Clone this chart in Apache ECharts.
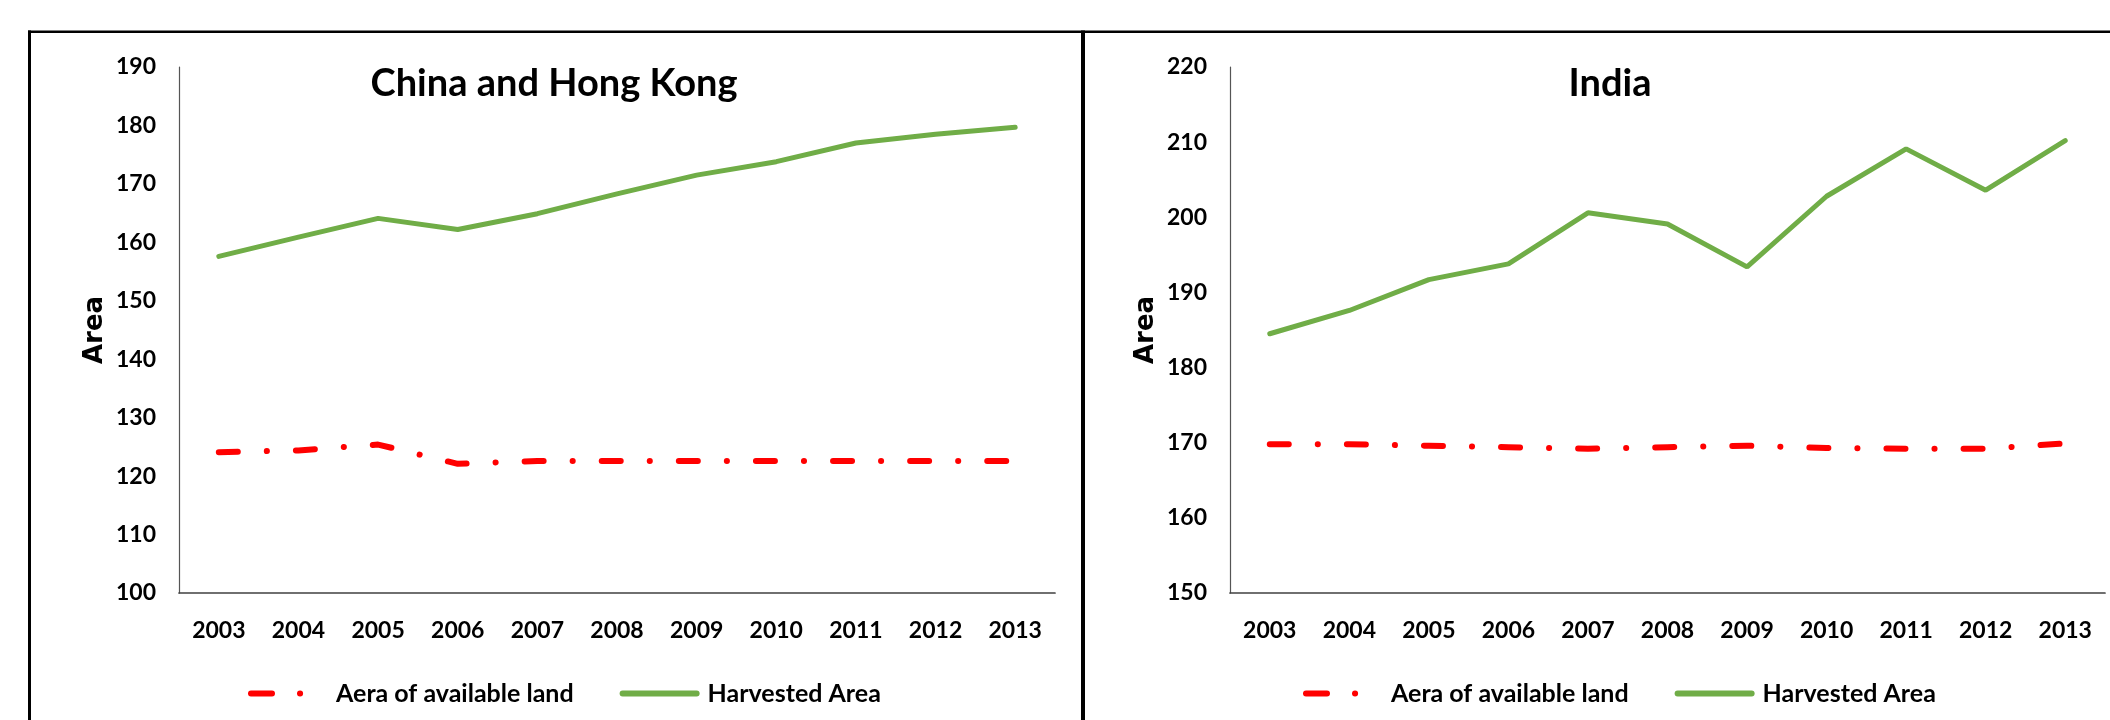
<!DOCTYPE html>
<html>
<head>
<meta charset="utf-8">
<script src="https://cdn.jsdelivr.net/npm/echarts@6/dist/echarts.min.js"></script>
<style>
  html, body { margin: 0; padding: 0; background: #fff; }
  #chart { width: 2110px; height: 720px; }
</style>
</head>
<body>
<div id="chart"></div>
<script>
const years = ['2003','2004','2005','2006','2007','2008','2009','2010','2011','2012','2013'];
const chinaTitle = 'China and Hong Kong';
const indiaTitle = 'India';
const seriesNames = ['Aera of available land', 'Harvested Area'];
const chinaAvailable = [124.1, 124.4, 125.4, 122.1, 122.6, 122.6, 122.6, 122.6, 122.6, 122.6, 122.6];
const chinaHarvested = [157.6, 160.9, 164.1, 162.2, 164.9, 168.3, 171.5, 173.8, 177.0, 178.5, 179.7];
const indiaAvailable = [169.8, 169.8, 169.6, 169.4, 169.2, 169.4, 169.6, 169.3, 169.2, 169.2, 169.9];
const indiaHarvested = [184.5, 187.6, 191.7, 193.8, 200.6, 199.1, 193.4, 202.8, 209.1, 203.6, 210.2];
const chinaAxis = { min: 100, max: 190, interval: 10 };
const indiaAxis = { min: 150, max: 220, interval: 10 };
const axisName = 'Area';

const RED = '#FF0000';
const GREEN = '#70AD47';
const FONT = 'Lato';
const redLine = { color: RED, width: 6, type: [19, 29, 0.1, 29], cap: 'round' };
const greenLine = { color: GREEN, width: 5, cap: 'round' };

function xAxisFor(gridIndex) {
  return {
    type: 'category', gridIndex, data: years, boundaryGap: true,
    axisLine: { show: true, lineStyle: { color: '#404040', width: 1.7 } },
    axisTick: { show: false },
    axisLabel: { color: '#000', fontFamily: FONT, fontWeight: 'bold', fontSize: 23, margin: 26 },
    splitLine: { show: false }
  };
}
function yAxisFor(gridIndex, cfg) {
  return {
    type: 'value', gridIndex, min: cfg.min, max: cfg.max, interval: cfg.interval,
    name: axisName, nameLocation: 'middle', nameGap: 71, nameRotate: 90,
    nameTextStyle: { color: '#000', fontFamily: 'DejaVu Sans', fontWeight: 'bold', fontSize: 26 },
    axisLine: { show: true, lineStyle: { color: '#555', width: 1.2 } },
    axisTick: { show: false },
    axisLabel: { color: '#000', fontFamily: FONT, fontWeight: 'bold', fontSize: 23, margin: 23 },
    splitLine: { show: false }
  };
}
function legendFor(left) {
  return {
    left, top: 681, padding: 0, itemWidth: 74, itemHeight: 14, itemGap: 46,
    data: [
      { name: seriesNames[0], itemStyle: { opacity: 0 }, lineStyle: { width: 6, color: RED, type: [21, 28, 0.1, 28], cap: 'round' } },
      { name: seriesNames[1], itemStyle: { opacity: 0 }, lineStyle: { width: 6, color: GREEN, cap: 'round' } }
    ],
    textStyle: { color: '#000', fontFamily: FONT, fontWeight: 'bold', fontSize: 25, lineHeight: 25, padding: [0, 0, 0, 6] },
    selectedMode: false
  };
}

const chart = echarts.init(document.getElementById('chart'), null, { renderer: 'canvas' });
chart.setOption({
  backgroundColor: '#fff',
  animation: false,
  title: [
    { text: chinaTitle, left: 554, top: 84, padding: 0, textAlign: 'center', textVerticalAlign: 'middle',
      textStyle: { color: '#000', fontFamily: FONT, fontWeight: 'bold', fontSize: 38 } },
    { text: indiaTitle, left: 1610, top: 84, padding: 0, textAlign: 'center', textVerticalAlign: 'middle',
      textStyle: { color: '#000', fontFamily: FONT, fontWeight: 'bold', fontSize: 38 } }
  ],
  grid: [
    { left: 179, width: 876, top: 67, height: 526 },
    { left: 1230, width: 875, top: 67, height: 526 }
  ],
  xAxis: [xAxisFor(0), xAxisFor(1)],
  yAxis: [yAxisFor(0, chinaAxis), yAxisFor(1, indiaAxis)],
  legend: [legendFor(248), legendFor(1303)],
  series: [
    { name: seriesNames[0], type: 'line', xAxisIndex: 0, yAxisIndex: 0, data: chinaAvailable, symbol: 'none', lineStyle: redLine, itemStyle: { color: RED } },
    { name: seriesNames[1], type: 'line', xAxisIndex: 0, yAxisIndex: 0, data: chinaHarvested, symbol: 'none', lineStyle: greenLine, itemStyle: { color: GREEN } },
    { name: seriesNames[0], type: 'line', xAxisIndex: 1, yAxisIndex: 1, data: indiaAvailable, symbol: 'none', lineStyle: redLine, itemStyle: { color: RED } },
    { name: seriesNames[1], type: 'line', xAxisIndex: 1, yAxisIndex: 1, data: indiaHarvested, symbol: 'none', lineStyle: greenLine, itemStyle: { color: GREEN } }
  ],
  graphic: [
    { type: 'rect', silent: true, shape: { x: 28, y: 30.5, width: 2090, height: 2.5 }, style: { fill: '#000' } },
    { type: 'rect', silent: true, shape: { x: 28, y: 30.5, width: 3, height: 700 }, style: { fill: '#000' } },
    { type: 'rect', silent: true, shape: { x: 1081, y: 30.5, width: 4, height: 700 }, style: { fill: '#000' } }
  ]
});
</script>
</body>
</html>
